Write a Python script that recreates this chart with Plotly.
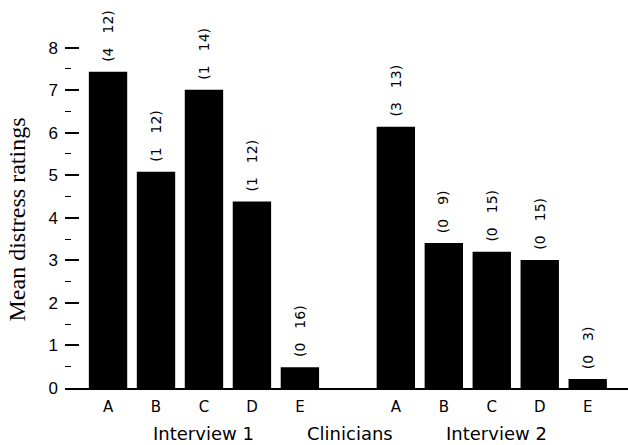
import plotly.graph_objects as go

letters = ["A", "B", "C", "D", "E"]
groups = ["Interview 1", "Clinicians", "Interview 2"]
interview1 = [7.43, 5.08, 7.01, 4.38, 0.49]
interview2 = [6.14, 3.41, 3.20, 3.01, 0.21]
labels1 = ["(4  12)", "(1  12)", "(1  14)", "(1  12)", "(0  16)"]
labels2 = ["(3  13)", "(0  9)", "(0  15)", "(0  15)", "(0  3)"]

pos1 = [0, 1, 2, 3, 4]
pos2 = [6, 7, 8, 9, 10]
group_pos = [2.0, 5.05, 8.1]

xs = pos1 + pos2
ys = interview1 + interview2
labs = [l.replace(" ", "\u2002") for l in labels1 + labels2]

fig = go.Figure()
fig.add_trace(go.Bar(x=xs, y=ys, width=0.8, marker=dict(color="black", line=dict(width=0)),
                     showlegend=False, hoverinfo="skip"))

for x, y, t in zip(xs, ys, labs):
    fig.add_annotation(x=x, y=y, text=t, textangle=-90, showarrow=False,
                       xanchor="center", yanchor="bottom", yshift=8,
                       font=dict(family="DejaVu Sans", size=14, color="black"))

for x, g in zip(group_pos, groups):
    fig.add_annotation(x=x, y=0, xref="x", yref="paper", yshift=-45, text=g,
                       showarrow=False, xanchor="center", yanchor="middle",
                       font=dict(family="DejaVu Sans", size=18, color="black"))

fig.add_annotation(x=0, y=0.44, xref="paper", yref="paper", xshift=-48,
                   text="Mean distress ratings", textangle=-90, showarrow=False,
                   xanchor="center", yanchor="middle",
                   font=dict(family="Liberation Serif", size=24, color="black"))

fig.update_layout(
    width=628, height=445,
    margin=dict(l=65, r=0, t=5, b=57),
    plot_bgcolor="white", paper_bgcolor="white",
    bargap=0.2,
    xaxis=dict(range=[-0.897, 10.84], tickvals=xs, ticktext=letters + letters,
               showgrid=False, zeroline=False, showline=True, linecolor="black",
               linewidth=1.5, ticks="", ticklabelstandoff=4,
               tickfont=dict(family="DejaVu Sans", size=15, color="black")),
    yaxis=dict(range=[0, 9], tickvals=list(range(0, 9)), showgrid=False, zeroline=False,
               showline=False, ticks="inside", ticklen=14, tickwidth=1.5, tickcolor="black",
               minor=dict(tickvals=[i + 0.5 for i in range(8)], ticks="inside", ticklen=6,
                          tickwidth=1.2, tickcolor="black"),
               ticklabelstandoff=6,
               tickfont=dict(family="Liberation Sans", size=17, color="black")),
)

fig.write_html("out.html", config={"displayModeBar": False},
               post_script="document.body.style.margin='0';")
